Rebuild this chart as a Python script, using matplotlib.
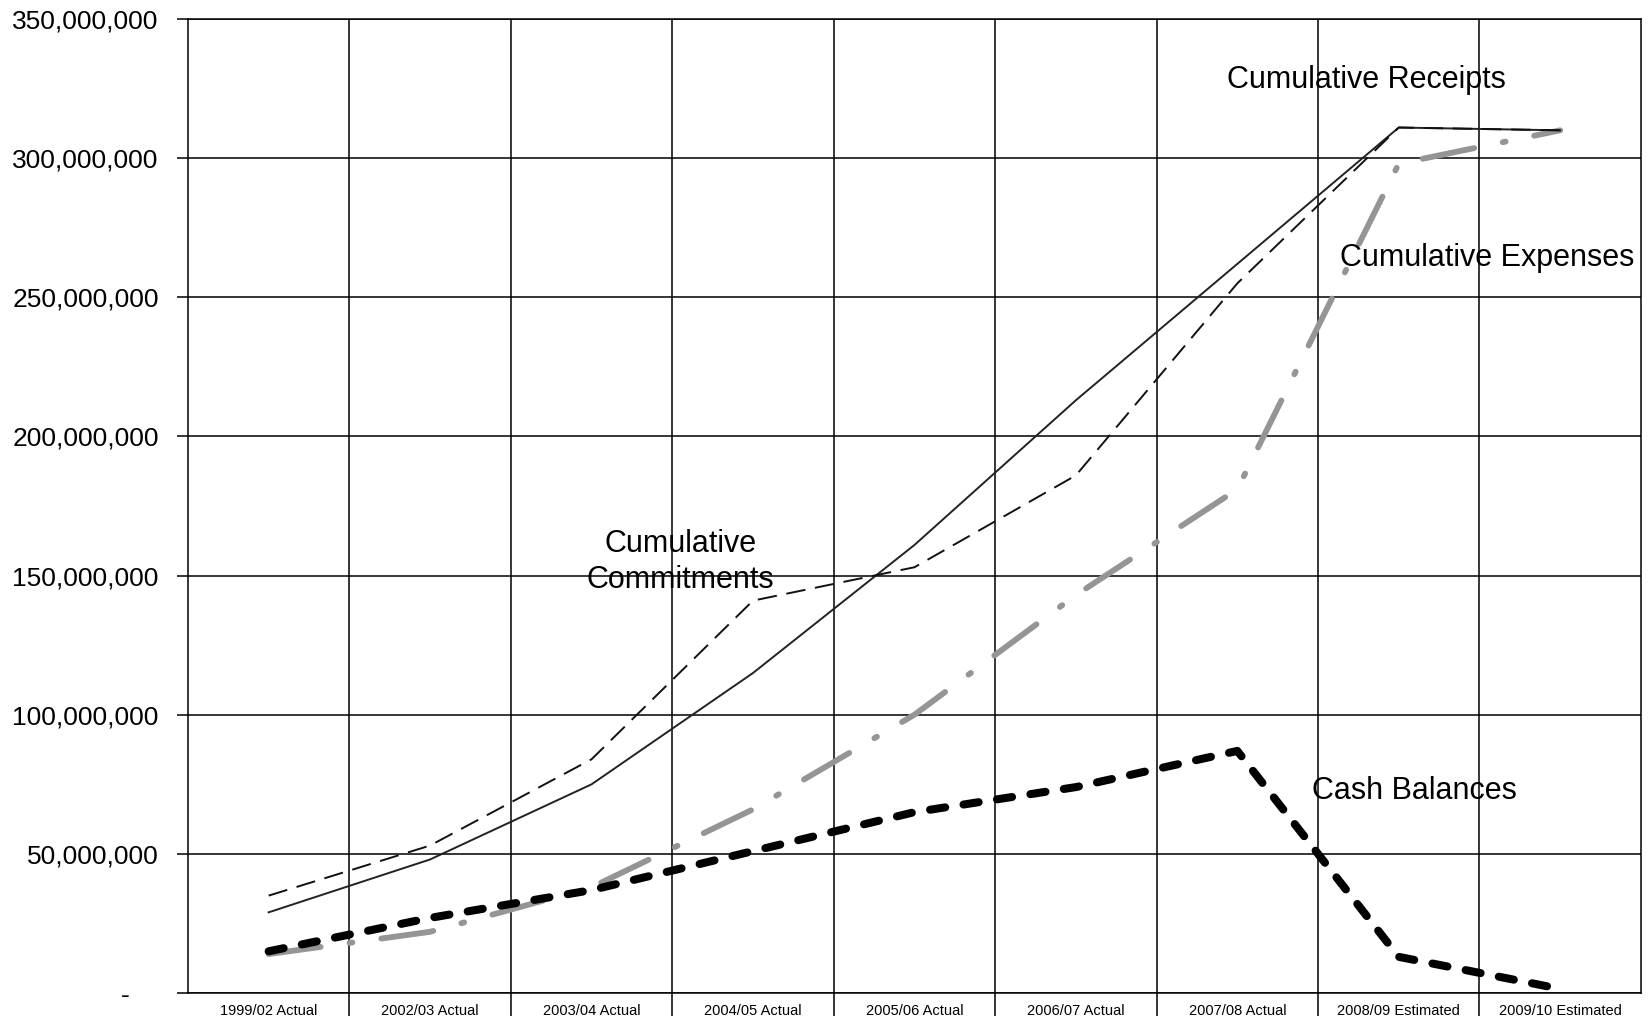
import numpy as np
import matplotlib
matplotlib.use('Agg')
import matplotlib.pyplot as plt
from matplotlib.ticker import FuncFormatter

plt.rcParams['font.family'] = ['Liberation Sans', 'DejaVu Sans']

'''values read off the chart'''
years = ['1999/02 Actual', '2002/03 Actual', '2003/04 Actual', '2004/05 Actual',
         '2005/06 Actual', '2006/07 Actual', '2007/08 Actual',
         '2008/09 Estimated', '2009/10 Estimated']
receipts = [29, 48, 75, 115, 161, 213, 262, 311, 310]        # millions
commitments = [35, 53, 84, 141, 153, 186, 255, 311, 310]
expenses = [14, 22, 38, 66, 100, 143, 181, 298, 310]
cash = [15, 27, 37, 51, 65, 74, 87, 13, 1.5]

x = np.arange(len(years))
M = 1e6

fig = plt.figure(figsize=(16.5, 10.16), dpi=100)
ax = fig.add_axes([0.1139, 0.0226, 0.8806, 0.9587])

ax.plot(x, np.array(receipts) * M, c='#222222', lw=1.4, zorder=3)
ax.plot(x, np.array(commitments) * M, c='#111111', lw=1.4,
        ls=(0, (10, 5)), zorder=3)
ax.plot(x, np.array(expenses) * M, c='#959595', lw=4.2,
        ls=(0, (9, 5, 0.5, 5)), dash_capstyle='round', zorder=2)
ax.plot(x, np.array(cash) * M, c='black', lw=5.8,
        ls=(0, (1.9, 2.3)), dash_capstyle='round', zorder=4)

ax.text(6.80, 328 * M, 'Cumulative Receipts', fontsize=22, ha='center', va='center')
ax.text(7.55, 264 * M, 'Cumulative Expenses', fontsize=22, ha='center', va='center')
ax.text(2.55, 155 * M, 'Cumulative\nCommitments', fontsize=22, ha='center',
        va='center', linespacing=1.25)
ax.text(7.10, 72.6 * M, 'Cash Balances', fontsize=22, ha='center', va='center')

ax.set_xlim(-0.5, 8.5)
ax.set_ylim(0, 350 * M)

# category boundaries as major ticks (gridlines), labels on minor ticks
ax.set_xticks(np.arange(0.5, 8.5, 1))
ax.set_xticklabels([])
ax.set_xticks(x, minor=True)
ax.set_xticklabels(years, minor=True, fontsize=10.5)
ax.tick_params(axis='x', which='major', length=30, width=1.1, color='black')
ax.tick_params(axis='x', which='minor', length=0, pad=8)

ax.set_yticks(np.arange(0, 351, 50) * M)
ax.yaxis.set_major_formatter(FuncFormatter(
    lambda v, p: '-    ' if v == 0 else '{:,.0f}'.format(v)))
ax.tick_params(axis='y', length=8, width=1.1, labelsize=19, pad=13)

ax.grid(True, which='major', color='black', lw=1.1)
for s in ax.spines.values():
    s.set_linewidth(1.1)
    s.set_color('black')

plt.savefig('out.png', dpi=100)
